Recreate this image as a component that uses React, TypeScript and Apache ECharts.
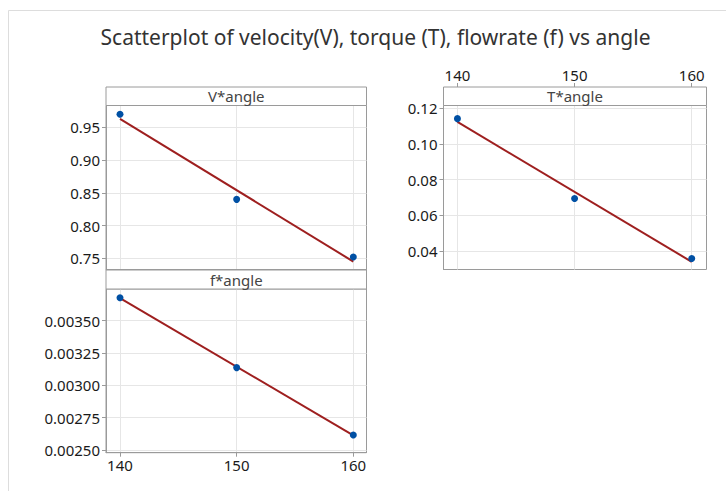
import React, { useEffect, useRef } from "react";
import * as echarts from "echarts";

const angles = [140, 150, 160];
const velocity = [0.97, 0.84, 0.752];
const torque = [0.1142, 0.0694, 0.0357];
const flowrate = [0.003678, 0.003137, 0.002616];

const xTicks = [140, 150, 160];
const vTicks = [0.75, 0.8, 0.85, 0.9, 0.95];
const tTicks = [0.04, 0.06, 0.08, 0.1, 0.12];
const fTicks = [0.0025, 0.00275, 0.003, 0.00325, 0.0035];

const titleText = "Scatterplot of velocity(V), torque (T), flowrate (f) vs angle";
const panelNames = ["V*angle", "T*angle", "f*angle"];

function fitLine(xs: number[], ys: number[]) {
  const n = xs.length;
  const mx = xs.reduce((a, b) => a + b, 0) / n;
  const my = ys.reduce((a, b) => a + b, 0) / n;
  let sxy = 0, sxx = 0;
  for (let i = 0; i < n; i++) {
    sxy += (xs[i] - mx) * (ys[i] - my);
    sxx += (xs[i] - mx) * (xs[i] - mx);
  }
  const b = sxy / sxx;
  const a = my - b * mx;
  const x0 = Math.min(...xs), x1 = Math.max(...xs);
  return [[x0, a + b * x0], [x1, a + b * x1]];
}

const FONT = "'Noto Sans', 'Open Sans', sans-serif";
const AXIS_COLOR = "#9a9a9a";
const GRID_COLOR = "#e6e6e6";
const LABEL_COLOR = "#1a1a1a";
const DOT = "#0050a4";
const LINE = "#9e1f1f";

export default function App() {
  const ref = useRef<HTMLDivElement>(null);
  useEffect(() => {
    if (!ref.current) return;
    const chart = echarts.init(ref.current, undefined, { renderer: "svg" });

    const grids = [
      { left: 106, top: 105.5, width: 260.5, height: 164 },
      { left: 443.5, top: 105.5, width: 263, height: 164 },
      { left: 106, top: 289, width: 260.5, height: 163.7 },
    ];
    const xRanges = [
      [138.8, 161.13],
      [138.81, 161.26],
      [138.8, 161.13],
    ];
    const yRanges = [
      [0.7329, 0.9833],
      [0.02955, 0.12157],
      [0.002479, 0.003745],
    ];
    const yTickSets = [vTicks, tTicks, fTicks];
    const yFmt = [
      (v: number) => v.toFixed(2),
      (v: number) => v.toFixed(2),
      (v: number) => v.toFixed(5),
    ];
    const xLabelShow = [false, true, true];
    const xPos = ["bottom", "top", "bottom"];
    const xOffset = [0, 18.5, 0];
    const series = [velocity, torque, flowrate];

    const xAxis = grids.map((_, i) => ({
      type: "value",
      gridIndex: i,
      min: xRanges[i][0],
      max: xRanges[i][1],
      position: xPos[i],
      offset: xOffset[i],
      axisLine: { show: true, lineStyle: { color: AXIS_COLOR, width: 1 } },
      axisTick: {
        show: xLabelShow[i],
        length: 4,
        customValues: xTicks,
        lineStyle: { color: AXIS_COLOR },
      },
      axisLabel: {
        show: xLabelShow[i],
        customValues: xTicks,
        color: LABEL_COLOR,
        fontSize: 15,
        fontFamily: FONT,
        margin: 5,
      },
      splitLine: { show: true, lineStyle: { color: GRID_COLOR, width: 1 } },
    }));

    const yAxis = grids.map((_, i) => ({
      type: "value",
      gridIndex: i,
      min: yRanges[i][0],
      max: yRanges[i][1],
      axisLine: { show: true, lineStyle: { color: AXIS_COLOR, width: 1 } },
      axisTick: {
        show: true,
        length: 4,
        customValues: yTickSets[i],
        lineStyle: { color: AXIS_COLOR },
      },
      axisLabel: {
        show: true,
        customValues: yTickSets[i],
        formatter: yFmt[i],
        color: LABEL_COLOR,
        fontSize: 15,
        fontFamily: FONT,
        margin: 6,
      },
      splitLine: { show: true, lineStyle: { color: GRID_COLOR, width: 1 } },
    }));

    const allSeries: any[] = [];
    series.forEach((ys, i) => {
      allSeries.push({
        type: "line",
        xAxisIndex: i,
        yAxisIndex: i,
        data: fitLine(angles, ys),
        showSymbol: false,
        lineStyle: { color: LINE, width: 2 },
        z: 3,
      });
      allSeries.push({
        type: "scatter",
        xAxisIndex: i,
        yAxisIndex: i,
        data: angles.map((a, k) => [a, ys[k]]),
        symbol: "circle",
        symbolSize: 7,
        itemStyle: { color: DOT, opacity: 1 },
        z: 4,
      });
    });

    const headers = [
      { x: 106, y: 87, w: 260.5, h: 18.5 },
      { x: 443.5, y: 87, w: 263, h: 18.5 },
      { x: 106, y: 270, w: 260.5, h: 19 },
    ];
    const graphic: any[] = [
      {
        type: "rect",
        shape: { x: 8.5, y: 10.5, width: 740, height: 500 },
        style: { fill: "none", stroke: "#dddddd", lineWidth: 1 },
        silent: true,
      },
      {
        type: "text",
        x: 375.5,
        y: 37,
        style: {
          text: titleText,
          fill: "#333",
          font: `21px ${FONT}`,
          textAlign: "center",
          textVerticalAlign: "middle",
        },
      },
    ];
    headers.forEach((h, i) => {
      graphic.push({
        type: "rect",
        shape: { x: h.x, y: h.y, width: h.w, height: h.h },
        style: { fill: "#fff", stroke: AXIS_COLOR, lineWidth: 1 },
        z: 10,
      });
      graphic.push({
        type: "text",
        x: h.x + h.w / 2,
        y: h.y + h.h / 2,
        style: {
          text: panelNames[i],
          fill: "#444",
          font: `15px ${FONT}`,
          textAlign: "center",
          textVerticalAlign: "middle",
        },
        z: 11,
      });
    });

    chart.setOption({
      animation: false,
      backgroundColor: "#fff",
      grid: grids.map((g) => ({
        ...g,
        show: true,
        borderColor: AXIS_COLOR,
        borderWidth: 1,
        backgroundColor: "transparent",
      })),
      xAxis,
      yAxis,
      series: allSeries,
      graphic,
    });
    return () => chart.dispose();
  }, []);

  return (
    <div
      ref={ref}
      style={{ position: "fixed", left: 0, top: 0, width: 726, height: 491 }}
    />
  );
}
